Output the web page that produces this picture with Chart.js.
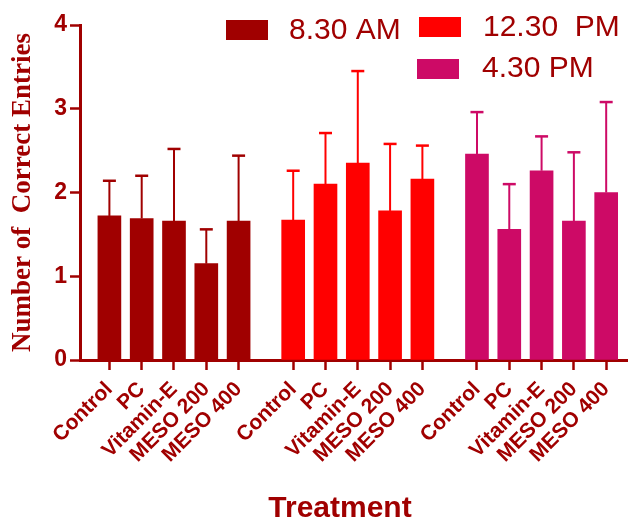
<!DOCTYPE html>
<html>
<head>
<meta charset="utf-8">
<script src="https://cdn.jsdelivr.net/npm/chart.js@4.4.1/dist/chart.umd.min.js"></script>
<style>
  html, body { margin: 0; padding: 0; background: #ffffff; }
  #wrap { width: 631px; height: 519px; position: relative; }
</style>
</head>
<body>
<div id="wrap"><canvas id="c" width="631" height="519"></canvas></div>
<script>
// ---- data ----
const treatments = ['Control', 'PC', 'Vitamin-E', 'MESO 200', 'MESO 400'];
const times = ['8.30 AM', '12.30  PM', '4.30 PM'];
const mean830am = [1.72, 1.69, 1.66, 1.15, 1.66];
const err830am  = [0.42, 0.51, 0.86, 0.41, 0.78];
const mean1230pm = [1.67, 2.10, 2.35, 1.78, 2.16];
const err1230pm  = [0.59, 0.61, 1.10, 0.80, 0.40];
const mean430pm = [2.46, 1.56, 2.26, 1.66, 2.00];
const err430pm  = [0.50, 0.54, 0.41, 0.82, 1.08];
const yTicks = [0, 1, 2, 3, 4];
const xTitle = 'Treatment';
const yTitle = 'Number of  Correct Entries';

// ---- styling ----
const DARK = '#A00000';
const groupColors = ['#A00000', '#FF0000', '#CD0A66'];
const GROUP_STEP = 5.69; // spacing between groups on the x scale (in bar-pitch units)
const SANS = '"Liberation Sans", Arial, sans-serif';

const means = [mean830am, mean1230pm, mean430pm];
const errs = [err830am, err1230pm, err430pm];

const points = [], colors = [], errors = [], tickLabels = [], tickPos = [];
means.forEach((arr, g) => {
  arr.forEach((v, i) => {
    const x = g * GROUP_STEP + i;
    points.push({ x: x, y: v });
    colors.push(groupColors[g]);
    errors.push(errs[g][i]);
    tickLabels.push(treatments[i]);
    tickPos.push(x);
  });
});

const errorBars = {
  id: 'errorBars',
  afterDatasetsDraw(chart) {
    const { ctx } = chart;
    const meta = chart.getDatasetMeta(0);
    const ys = chart.scales.y;
    ctx.save();
    meta.data.forEach((el, i) => {
      const top = ys.getPixelForValue(points[i].y + errors[i]);
      ctx.strokeStyle = colors[i];
      ctx.lineWidth = 2;
      ctx.beginPath();
      ctx.moveTo(el.x, el.y);
      ctx.lineTo(el.x, top);
      ctx.stroke();
      ctx.lineWidth = 2.5;
      ctx.beginPath();
      ctx.moveTo(el.x - 6.5, top);
      ctx.lineTo(el.x + 6.5, top);
      ctx.stroke();
    });
    ctx.restore();
  }
};

const customLegend = {
  id: 'customLegend',
  afterDraw(chart) {
    const { ctx } = chart;
    const items = [
      { box: [226, 20], text: [289, 31] },
      { box: [419, 17], text: [483, 28] },
      { box: [417, 59], text: [482, 69] }
    ];
    ctx.save();
    ctx.font = '30px ' + SANS;
    ctx.textBaseline = 'middle';
    ctx.textAlign = 'left';
    items.forEach((it, g) => {
      ctx.fillStyle = groupColors[g];
      ctx.fillRect(it.box[0], it.box[1], 42, 20);
      ctx.fillStyle = DARK;
      ctx.fillText(times[g], it.text[0], it.text[1]);
    });
    // x-axis title (placed slightly left of the plot centre, as in the reference)
    ctx.font = 'bold 30px ' + SANS;
    ctx.textAlign = 'center';
    ctx.textBaseline = 'alphabetic';
    ctx.fillText(xTitle, 340, 517);
    ctx.restore();
  }
};

new Chart(document.getElementById('c'), {
  type: 'bar',
  data: {
    datasets: [{
      data: points,
      backgroundColor: colors,
      borderWidth: 0,
      barThickness: 23,
      grouped: false
    }]
  },
  options: {
    responsive: false,
    animation: false,
    layout: { padding: { top: 25, right: 0, bottom: 0, left: 0 } },
    plugins: { legend: { display: false }, tooltip: { enabled: false } },
    scales: {
      x: {
        type: 'linear',
        min: -0.91,
        max: 16.04,
        offset: false,
        afterBuildTicks(scale) {
          scale.ticks = tickPos.map(v => ({ value: v }));
        },
        afterFit(scale) { scale.height = 159; },
        grid: { display: true, drawOnChartArea: false, offset: false, tickLength: 10, tickWidth: 2.5, tickColor: DARK },
        border: { display: true, color: DARK, width: 3 },
        ticks: {
          autoSkip: false,
          minRotation: 45,
          maxRotation: 45,
          padding: 7,
          color: DARK,
          font: { family: SANS, size: 21, weight: 'bold' },
          callback: (value, index) => tickLabels[index]
        },
        title: { display: false }
      },
      y: {
        min: 0,
        max: 4,
        afterBuildTicks(scale) {
          scale.ticks = yTicks.map(v => ({ value: v }));
        },
        afterFit(scale) { scale.width = 80; },
        grid: { display: true, drawOnChartArea: false, tickLength: 10, tickWidth: 2.5, tickColor: DARK },
        border: { display: true, color: DARK, width: 3 },
        ticks: {
          padding: 3,
          color: DARK,
          font: { family: SANS, size: 23, weight: 'bold' }
        },
        title: {
          display: true,
          text: yTitle,
          color: DARK,
          padding: { top: 10, bottom: 0 },
          font: { family: '"Liberation Serif", "Times New Roman", serif', size: 27, weight: 'bold', lineHeight: 1 }
        }
      }
    }
  },
  plugins: [errorBars, customLegend]
});
</script>
</body>
</html>
